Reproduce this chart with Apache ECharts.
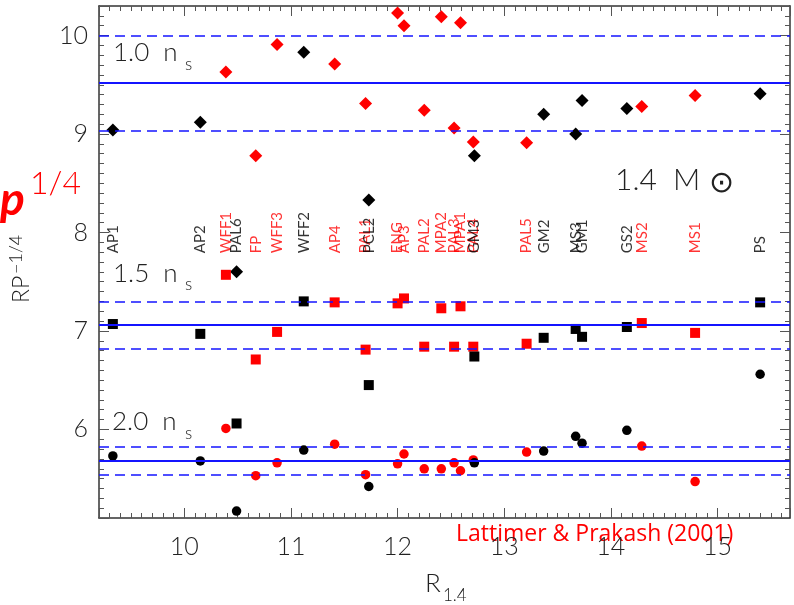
<!DOCTYPE html>
<html>
<head>
<meta charset="utf-8">
<script src="https://cdn.jsdelivr.net/npm/echarts@6/dist/echarts.min.js"></script>
<style>
  html, body { margin: 0; padding: 0; background: #fff; }
  #chart { width: 794px; height: 605px; }
</style>
</head>
<body>
<div id="chart"></div>
<script>
// equations of state, radius of a 1.4 Msun star and R*P^-1/4 at three densities
const eosNames = ["AP1", "AP2", "WFF1", "PAL6", "FP", "WFF3", "WFF2", "AP4", "PAL1", "PCL2",
  "ENG", "AP3", "PAL2", "MPA2", "PAL3", "MPA1", "PAL4", "GM3", "PAL5", "GM2",
  "MS3", "GM1", "GS2", "MS2", "MS1", "PS"];
const eosRed = [0, 0, 1, 0, 1, 1, 0, 1, 1, 0,
  1, 1, 1, 1, 1, 1, 1, 0, 1, 0,
  0, 0, 0, 1, 1, 0];
const radius14 = [9.33, 10.15, 10.39, 10.49, 10.67, 10.87, 11.12, 11.41, 11.70, 11.73,
  12.00, 12.06, 12.25, 12.41, 12.53, 12.59, 12.71, 12.72, 13.21, 13.37,
  13.67, 13.73, 14.15, 14.29, 14.79, 15.40];
const rp10 = [9.04, 9.12, 9.63, 7.60, 8.78, 9.91, 9.83, 9.71, 9.31, 8.33,
  10.23, 10.10, 9.24, 10.19, 9.06, 10.13, 8.92, 8.78, 8.91, 9.20,
  9.00, 9.34, 9.26, 9.28, 9.39, 9.41];
const rp15 = [7.07, 6.97, 7.57, 6.06, 6.71, 6.99, 7.30, 7.29, 6.81, 6.45,
  7.28, 7.33, 6.84, 7.23, 6.84, 7.25, 6.84, 6.74, 6.87, 6.93,
  7.02, 6.94, 7.04, 7.08, 6.98, 7.29];
const rp20 = [5.73, 5.68, 6.01, 5.17, 5.53, 5.66, 5.79, 5.85, 5.54, 5.42,
  5.65, 5.75, 5.60, 5.60, 5.66, 5.58, 5.69, 5.66, 5.77, 5.78,
  5.93, 5.86, 5.99, 5.83, 5.47, 6.56];
const labelLevel = 7.79;
// mean and spread lines for each density
const bandMean = [9.52, 7.06, 5.68];
const bandLow = [9.03, 6.82, 5.545];
const bandHigh = [10.0, 7.30, 5.818];

const FONT = "Lato, 'Open Sans', sans-serif";
const RED = "#ff0000";
const INK = "#222";

document.addEventListener("DOMContentLoaded", function () {
  const chart = echarts.init(document.getElementById("chart"));

  function points(values) {
    return values.map(function (v, i) {
      return {
        name: eosNames[i],
        value: [radius14[i], v],
        itemStyle: { color: eosRed[i] ? RED : "#000", opacity: 1 },
      };
    });
  }

  const lineData = [];
  bandMean.forEach(function (m, i) {
    lineData.push({ yAxis: m, lineStyle: { type: "solid", width: 2 } });
    lineData.push({ yAxis: bandLow[i], lineStyle: { type: [10, 6], width: 1.5 } });
    lineData.push({ yAxis: bandHigh[i], lineStyle: { type: [10, 6], width: 1.5 } });
  });

  const intOnly = function (v) {
    return Math.abs(v - Math.round(v)) < 1e-6 ? String(Math.round(v)) : "";
  };

  function xAxisDef(pos, major) {
    return {
      type: "value",
      position: pos,
      min: 9.2,
      max: 15.68,
      splitNumber: major ? 6 : undefined,
      interval: major ? undefined : 0.1,
      axisLine: { show: major, onZero: false, lineStyle: { color: "#333", width: 1.5 } },
      axisTick: { show: true, inside: true, length: major ? 10 : 5, lineStyle: { color: "#555", width: 1 } },
      axisLabel: {
        show: major && pos === "bottom",
        formatter: intOnly,
        fontFamily: FONT,
        fontWeight: 300,
        fontSize: 25,
        color: INK,
        margin: 16,
      },
      splitLine: { show: false },
    };
  }
  function yAxisDef(pos, major) {
    return {
      type: "value",
      position: pos,
      min: 5.1,
      max: 10.3,
      splitNumber: major ? 5 : undefined,
      interval: major ? undefined : 0.1,
      axisLine: { show: major, onZero: false, lineStyle: { color: "#333", width: 1.5 } },
      axisTick: { show: true, inside: true, length: major ? 10 : 5, lineStyle: { color: "#555", width: 1 } },
      axisLabel: {
        show: major && pos === "left",
        formatter: intOnly,
        fontFamily: FONT,
        fontWeight: 300,
        fontSize: 25,
        color: INK,
        margin: 11,
      },
      splitLine: { show: false },
    };
  }

  const textBase = { fontFamily: FONT, fontWeight: 300, fill: INK };
  function txt(x, y, text, extra) {
    return {
      type: "text",
      x: x,
      y: y,
      silent: true,
      style: Object.assign({ text: text, align: "left", verticalAlign: "middle" }, textBase, extra),
    };
  }

  const option = {
    animation: false,
    backgroundColor: "#fff",
    grid: { left: 99, right: 4, top: 6, bottom: 87, containLabel: false },
    xAxis: [
      xAxisDef("bottom", true),
      xAxisDef("bottom", false),
      xAxisDef("top", true),
      xAxisDef("top", false),
    ],
    yAxis: [
      yAxisDef("left", true),
      yAxisDef("left", false),
      yAxisDef("right", true),
      yAxisDef("right", false),
    ],
    series: [
      {
        name: "bands",
        type: "scatter",
        data: [],
        markLine: {
          silent: true,
          symbol: "none",
          label: { show: false },
          lineStyle: { color: "#1414ff" },
          data: lineData,
        },
      },
      {
        name: "1.0 ns",
        type: "scatter",
        symbol: "diamond",
        symbolSize: 13,
        data: points(rp10),
      },
      {
        name: "1.5 ns",
        type: "scatter",
        symbol: "rect",
        symbolSize: 10,
        data: points(rp15),
      },
      {
        name: "2.0 ns",
        type: "scatter",
        symbol: "circle",
        symbolSize: 9.5,
        data: points(rp20),
      },
      {
        name: "labels",
        type: "scatter",
        symbolSize: 0,
        data: eosNames.map(function (n, i) {
          return {
            name: n,
            value: [radius14[i], labelLevel],
            label: { color: eosRed[i] ? RED : "#000" },
          };
        }),
        label: {
          show: true,
          position: "inside",
          formatter: "{b}",
          rotate: 90,
          align: "left",
          verticalAlign: "middle",
          fontFamily: FONT,
          fontSize: 15,
        },
      },
    ],
    graphic: [
      txt(113, 53, "1.0  n", { fontSize: 26 }),
      txt(185, 65, "s", { fontSize: 17 }),
      txt(113, 274, "1.5  n", { fontSize: 26 }),
      txt(185, 285, "s", { fontSize: 17 }),
      txt(112, 422, "2.0  n", { fontSize: 26 }),
      txt(185, 434, "s", { fontSize: 17 }),
      txt(615, 180, "1.4  M", { fontSize: 30 }),
      txt(709, 182, "\u2299", { fontSize: 30 }),
      txt(0, 200, "p", { fontSize: 46, fontWeight: "bold", fontStyle: "italic", fill: RED }),
      txt(30, 184, "1/4", { fontSize: 32, fill: RED }),
      {
        type: "group",
        x: 22,
        y: 303,
        rotation: Math.PI / 2,
        children: [
          txt(0, 0, "RP", { fontSize: 23 }),
          txt(29, -6, "\u22121/4", { fontSize: 18 }),
        ],
      },
      txt(425, 584, "R", { fontSize: 26 }),
      txt(443, 596, "1.4", { fontSize: 17 }),
      txt(456, 534, "Lattimer & Prakash (2001)", {
        fontSize: 23,
        fontFamily: "'Open Sans', Lato, sans-serif",
        fontWeight: "normal",
        fill: RED,
      }),
    ],
  };
  chart.setOption(option);
  window.addEventListener("resize", function () {
    chart.resize();
  });
});
</script>
</body>
</html>
